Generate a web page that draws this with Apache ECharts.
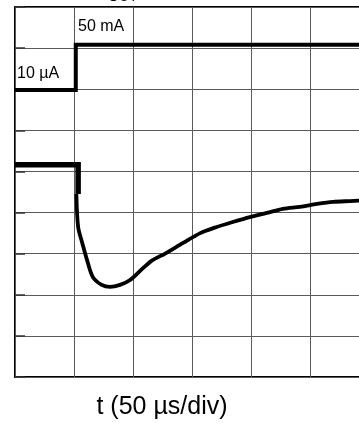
<!DOCTYPE html>
<html>
<head>
<meta charset="utf-8">
<script src="https://cdn.jsdelivr.net/npm/echarts@6/dist/echarts.min.js"></script>
<style>
  html, body { margin: 0; padding: 0; background: #fff; }
  #chart { width: 359px; height: 423px; }
</style>
</head>
<body>
<div id="chart"></div>
<script>
// time in divisions, level in divisions (from bottom of screen)
var loadTime = [0, 1.03, 1.03, 6.2];
var loadLevel = [6.98, 6.98, 8.08, 8.08];

var voutStepTime = [0, 1.07, 1.07];
var voutStepLevel = [5.16, 5.16, 4.45];

var voutTime = [1.04, 1.07, 1.14, 1.22, 1.32, 1.47, 1.61, 1.78, 1.95, 2.17, 2.32, 2.46, 2.51, 2.85, 3.14, 3.42, 3.69, 3.98, 4.27, 4.54, 4.83, 5.12, 5.39, 5.68, 6.0];
var voutLevel = [4.45, 3.65, 3.26, 2.85, 2.43, 2.24, 2.19, 2.24, 2.36, 2.65, 2.83, 2.94, 2.97, 3.26, 3.50, 3.65, 3.77, 3.89, 3.99, 4.09, 4.14, 4.21, 4.26, 4.28, 4.30];

var xDivs = 10;
var yDivs = 9;

function pairs(xs, ys) {
    var out = [];
    for (var i = 0; i < xs.length; i++) out.push([xs[i], ys[i]]);
    return out;
}

var font = 'Liberation Sans, Arial, sans-serif';
var myChart = echarts.init(document.getElementById('chart'), null, { renderer: 'canvas' });
var option = {
    animation: false,
    grid: {
        left: 15, top: 7, width: 590, height: 370,
        outerBoundsMode: 'none', containLabel: false,
        show: true, borderColor: '#000', borderWidth: 2, backgroundColor: 'transparent'
    },
    xAxis: {
        type: 'value', min: 0, max: xDivs, interval: 1,
        axisLine: { show: false }, axisTick: { show: false }, axisLabel: { show: false },
        splitLine: { show: true, lineStyle: { color: '#5a5a5a', width: 1 } }
    },
    yAxis: {
        type: 'value', min: 0, max: yDivs, interval: 1,
        axisLine: { show: false },
        axisTick: { show: true, inside: true, length: 10, lineStyle: { color: '#333', width: 1.5 } },
        axisLabel: { show: false },
        splitLine: { show: true, lineStyle: { color: '#5a5a5a', width: 1 } }
    },
    series: [
        {
            name: 'ILOAD', type: 'line', data: pairs(loadTime, loadLevel),
            showSymbol: false, lineStyle: { color: '#000', width: 4, join: 'miter' }, z: 5
        },
        {
            name: 'VOUT step', type: 'line', data: pairs(voutStepTime, voutStepLevel),
            showSymbol: false, lineStyle: { color: '#000', width: 5.5, join: 'miter' }, z: 5
        },
        {
            name: 'VOUT', type: 'line', data: pairs(voutTime, voutLevel), smooth: 0.3,
            showSymbol: false, lineStyle: { color: '#000', width: 3.8 }, z: 5
        }
    ],
    graphic: [
        { type: 'text', style: { x: 78, y: 26.5, text: '50 mA', font: '16px ' + font, fill: '#000', verticalAlign: 'middle' } },
        { type: 'text', style: { x: 17, y: 73.5, text: '10 \u00b5A', font: '16px ' + font, fill: '#000', verticalAlign: 'middle' } },
        { type: 'text', style: { x: 162, y: 407, text: 't (50 \u00b5s/div)', font: '25px ' + font, fill: '#000', align: 'center', verticalAlign: 'middle' } },
        // title row, mostly above the visible area
        { type: 'text', style: { x: 108, y: -9.5, text: 'ILOAD, V', font: '20px ' + font, fill: '#000', align: 'right', verticalAlign: 'middle' } },
        { type: 'text', style: { x: 108, y: -2.5, text: 'OUT', font: '14px ' + font, fill: '#000', verticalAlign: 'middle' } },
        { type: 'text', style: { x: 140, y: -9.5, text: ' (50 mV/div)', font: '20px ' + font, fill: '#000', verticalAlign: 'middle' } }
    ]
};
myChart.setOption(option);
</script>
</body>
</html>
